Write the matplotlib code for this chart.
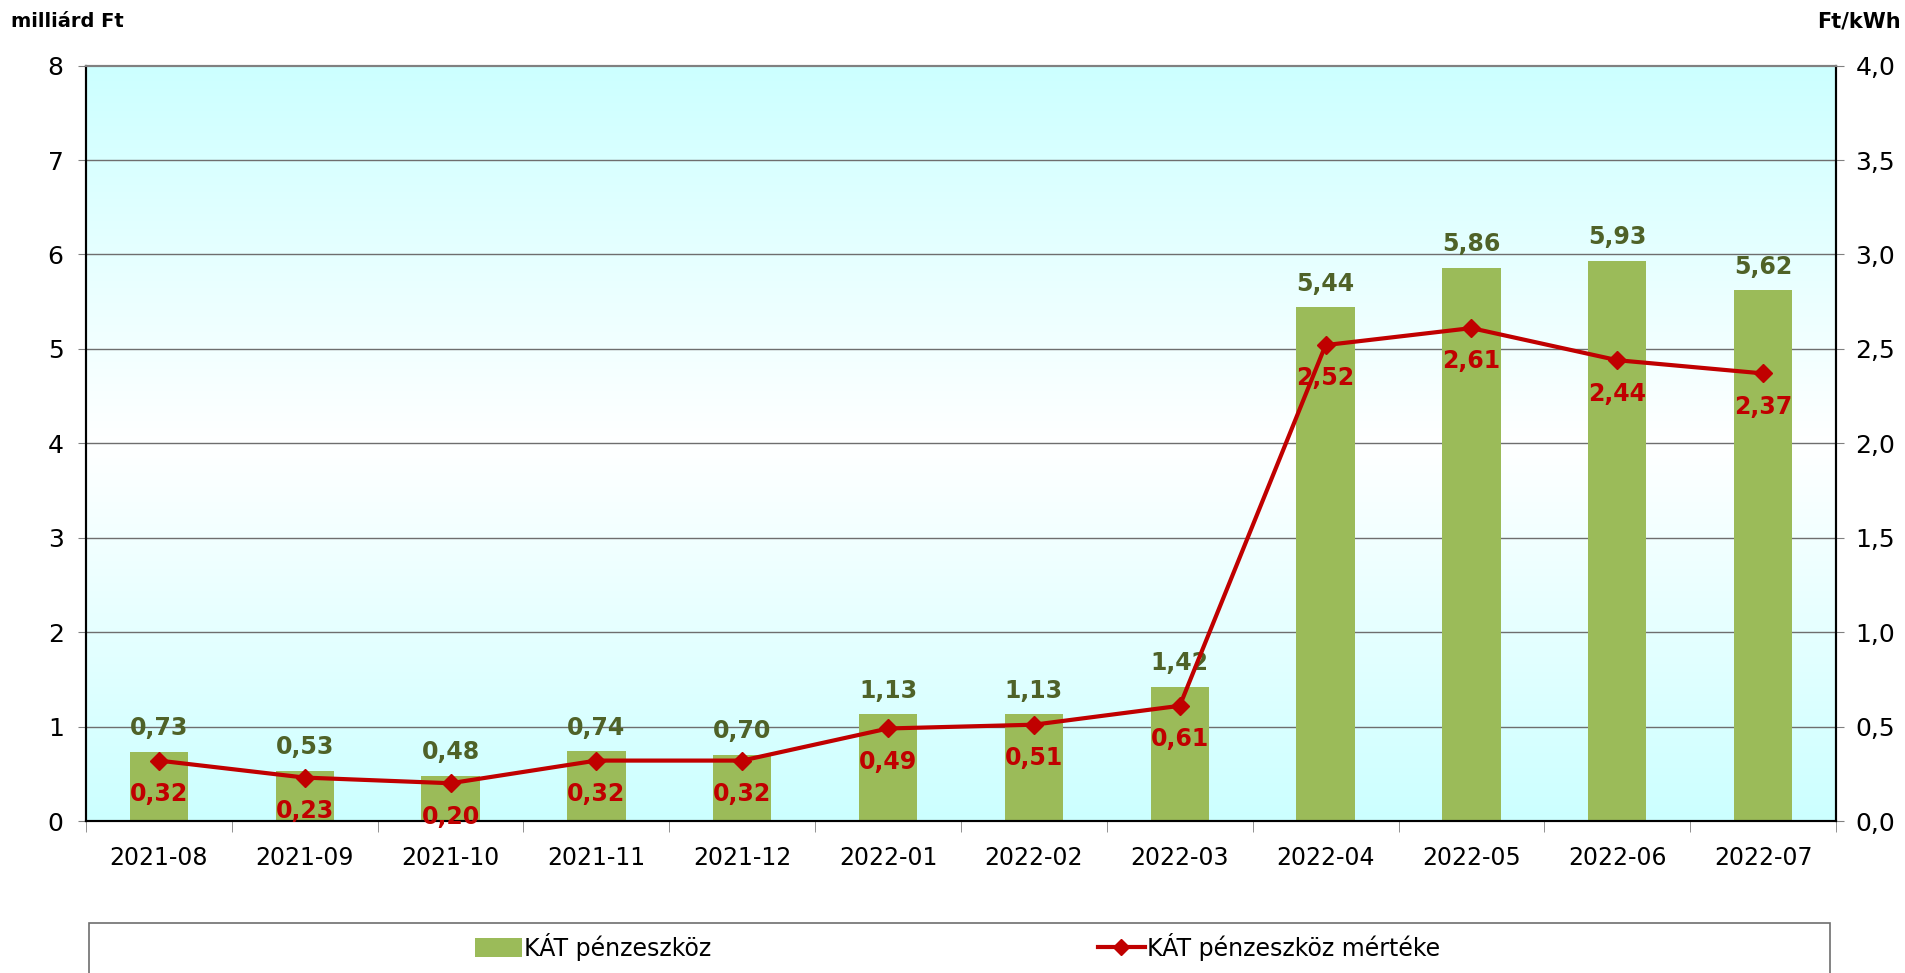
import numpy as np
import matplotlib.pyplot as plt
from matplotlib.lines import Line2D
from matplotlib.patches import Patch, Rectangle
from matplotlib.colors import LinearSegmentedColormap

plt.rcParams['font.family'] = ['DejaVu Sans']

# Adatok
honapok = ['2021-08', '2021-09', '2021-10', '2021-11', '2021-12', '2022-01',
           '2022-02', '2022-03', '2022-04', '2022-05', '2022-06', '2022-07']
penzeszkoz = [0.73, 0.53, 0.48, 0.74, 0.70, 1.13, 1.13, 1.42, 5.44, 5.86, 5.93, 5.62]
mertek = [0.32, 0.23, 0.20, 0.32, 0.32, 0.49, 0.51, 0.61, 2.52, 2.61, 2.44, 2.37]

BAR_COLOR = '#9BBB59'
LINE_COLOR = '#C00000'
BAR_LABEL_COLOR = '#4F6228'


def hu(v, d=2):
    return f'{v:.{d}f}'.replace('.', ',')


fig = plt.figure(figsize=(19.05, 9.73), dpi=100)
ax = fig.add_axes([0.0451, 0.1562, 0.9187, 0.7764])
ax2 = ax.twinx()

x = np.arange(len(honapok))

# Háttér színátmenet (cián - fehér - cián)
cmap = LinearSegmentedColormap.from_list('bg', ['#CCFFFF', '#FFFFFF', '#CCFFFF'])
grad = np.linspace(0, 1, 256).reshape(-1, 1)
ax.imshow(grad, cmap=cmap, aspect='auto', extent=[0, 1, 0, 1],
          transform=ax.transAxes, zorder=0)

ax.set_xlim(-0.5, len(honapok) - 0.5)
ax.set_ylim(0, 8)
ax2.set_ylim(0, 4)

for yv in range(1, 8):
    ax.axhline(yv, color='#6E6E6E', linewidth=1.0, zorder=1)

ax.bar(x, penzeszkoz, width=0.4, color=BAR_COLOR, zorder=2)
for xi, v in zip(x, penzeszkoz):
    ax.annotate(hu(v), (xi, v), xytext=(0, 17), textcoords='offset points',
                ha='center', va='center', fontsize=17, fontweight='bold',
                color=BAR_LABEL_COLOR, zorder=5)

ax2.plot(x, mertek, color=LINE_COLOR, linewidth=3, marker='D', markersize=9,
         zorder=3)
for xi, v in zip(x, mertek):
    ax2.annotate(hu(v), (xi, v), xytext=(0, -24), textcoords='offset points',
                 ha='center', va='center', fontsize=17, fontweight='bold',
                 color=LINE_COLOR, zorder=5)

# Tengelyek
ax.set_xticks(x)
ax.set_xticklabels(honapok, fontsize=17)
ax.set_xticks(np.arange(-0.5, len(honapok), 1), minor=True)
ax.tick_params(axis='x', which='major', length=0, pad=18)
ax.tick_params(axis='x', which='minor', length=8, color='#808080')
ax.set_yticks(range(0, 9))
ax.tick_params(axis='y', labelsize=18, length=6, color='#808080', pad=10)
ax2.set_yticks(np.arange(0, 4.01, 0.5))
ax2.set_yticklabels([hu(v, 1) for v in np.arange(0, 4.01, 0.5)])
ax2.tick_params(axis='y', labelsize=18, length=6, color='#808080', pad=8)

for a in (ax, ax2):
    a.spines['top'].set_color('#808080')
    a.spines['left'].set_color('black')
    a.spines['right'].set_color('black')
    a.spines['bottom'].set_color('black')
    for s in ('left', 'right', 'bottom', 'top'):
        a.spines[s].set_linewidth(1.5)

fig.text(0.006, 0.978, 'milliárd Ft', fontsize=14, fontweight='bold', ha='left', va='center')
fig.text(0.998, 0.978, 'Ft/kWh', fontsize=15, fontweight='bold', ha='right', va='center')

# Jelmagyarázat
fig.patches.append(Rectangle((0.0467, -0.05), 0.9139, 0.1015, transform=fig.transFigure,
                             facecolor='white', edgecolor='#6E6E6E', linewidth=1.2))
h1 = Patch(facecolor=BAR_COLOR, edgecolor='none')
h2 = Line2D([], [], color=LINE_COLOR, linewidth=3, marker='D', markersize=8)
leg1 = fig.legend([h1], ['KÁT pénzeszköz'], loc='center left', bbox_to_anchor=(0.238, 0.027),
                  frameon=False, fontsize=17, handlelength=2.0, handletextpad=0.1,
                  handleheight=0.8)
leg2 = fig.legend([h2], ['KÁT pénzeszköz mértéke'], loc='center left',
                  bbox_to_anchor=(0.565, 0.027), frameon=False, fontsize=17,
                  handlelength=2.0, handletextpad=0.1)

fig.savefig('out.png', dpi=100)
